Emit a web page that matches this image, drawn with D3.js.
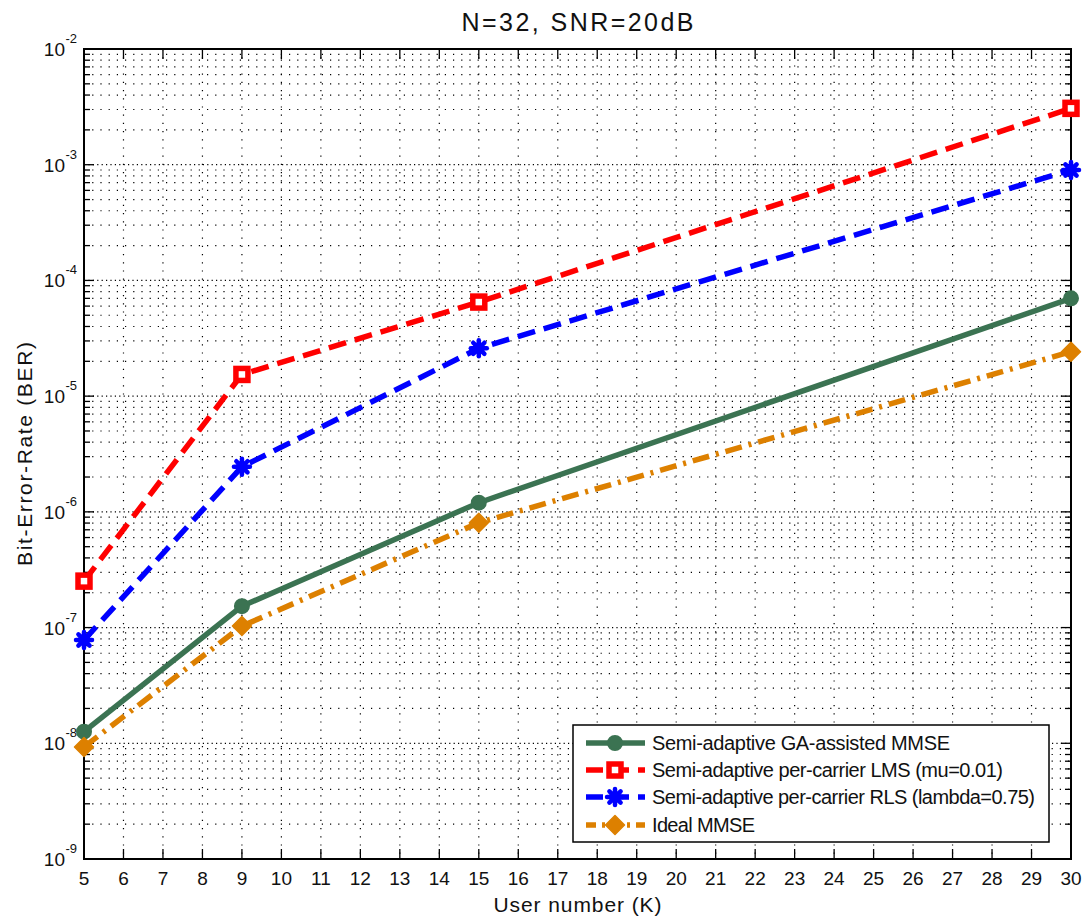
<!DOCTYPE html>
<html>
<head>
<meta charset="utf-8">
<script src="https://cdn.jsdelivr.net/npm/d3@7"></script>
<style>
  html, body { margin: 0; padding: 0; background: #fff; }
  svg { display: block; font-family: "Liberation Sans", Arial, sans-serif; }
</style>
</head>
<body>
<svg id="chart" width="1086" height="919"></svg>
<script>
// User numbers (K) at which BER was evaluated
const users = [5, 9, 15, 30];

// Bit-error-rate per scheme
const berGA   = [1.26e-8, 1.53e-7, 1.2e-6, 7.0e-5];
const berLMS  = [2.52e-7, 1.54e-5, 6.5e-5, 3.07e-3];
const berRLS  = [7.8e-8, 2.45e-6, 2.59e-5, 9.0e-4];
const berIdeal = [9.3e-9, 1.03e-7, 8.05e-7, 2.42e-5];

const seriesNames = [
  "Semi-adaptive GA-assisted MMSE",
  "Semi-adaptive per-carrier LMS (mu=0.01)",
  "Semi-adaptive per-carrier RLS (lambda=0.75)",
  "Ideal MMSE"
];

const xTicks = d3.range(5, 31);
const yExponents = [-9, -8, -7, -6, -5, -4, -3, -2];

const titleText = "N=32, SNR=20dB";
const xLabel = "User number (K)";
const yLabel = "Bit-Error-Rate (BER)";

(function () {
const svg = d3.select("#chart");
const pL = 84, pR = 1071, pT = 49, pB = 859;
const midX = (pL + pR) / 2, midY = (pT + pB) / 2;

const x = d3.scaleLinear().domain([5, 30]).range([pL, pR]);
const y = d3.scaleLog().domain([1e-9, 1e-2]).range([pB, pT]);

// Minor decade values 2..9 x 10^k
const minorVals = [];
for (let e = -9; e < -2; e++) for (let m = 2; m <= 9; m++) minorVals.push(m * Math.pow(10, e));
const majorVals = yExponents.map(e => Math.pow(10, e));

const grid = svg.append("g").attr("stroke", "#000").attr("stroke-width", 1.2);

// Vertical grid
grid.selectAll("line.vx").data(xTicks.slice(1, -1)).join("line")
  .attr("x1", d => x(d)).attr("x2", d => x(d))
  .attr("y1", pT).attr("y2", pB)
  .attr("stroke-dasharray", "1.2,7");

// Horizontal minor grid
grid.selectAll("line.hm").data(minorVals).join("line")
  .attr("x1", pL).attr("x2", pR)
  .attr("y1", d => y(d)).attr("y2", d => y(d))
  .attr("stroke-dasharray", "1.2,7");

// Horizontal major grid (denser dots)
grid.selectAll("line.hM").data(majorVals.slice(1, -1)).join("line")
  .attr("x1", pL).attr("x2", pR)
  .attr("y1", d => y(d)).attr("y2", d => y(d))
  .attr("stroke-dasharray", "1.2,3.2");

// Axis frame and ticks
const axesG = svg.append("g").attr("stroke", "#000").attr("stroke-width", 1.3);
axesG.append("rect").attr("x", pL).attr("y", pT)
  .attr("width", pR - pL).attr("height", pB - pT)
  .attr("fill", "none").attr("stroke-width", 2);

const majLen = 10, minLen = 6;
xTicks.forEach(t => {
  axesG.append("line").attr("x1", x(t)).attr("x2", x(t)).attr("y1", pB).attr("y2", pB - majLen);
  axesG.append("line").attr("x1", x(t)).attr("x2", x(t)).attr("y1", pT).attr("y2", pT + majLen);
});
majorVals.forEach(v => {
  axesG.append("line").attr("x1", pL).attr("x2", pL + majLen).attr("y1", y(v)).attr("y2", y(v));
  axesG.append("line").attr("x1", pR).attr("x2", pR - majLen).attr("y1", y(v)).attr("y2", y(v));
});
minorVals.forEach(v => {
  axesG.append("line").attr("x1", pL).attr("x2", pL + minLen).attr("y1", y(v)).attr("y2", y(v));
  axesG.append("line").attr("x1", pR).attr("x2", pR - minLen).attr("y1", y(v)).attr("y2", y(v));
});

// X tick labels
svg.append("g").selectAll("text").data(xTicks).join("text")
  .attr("x", d => x(d)).attr("y", 885)
  .attr("text-anchor", "middle").attr("font-size", 19).attr("fill", "#111")
  .text(d => d);

// Y tick labels: 10^e
const yl = svg.append("g").attr("fill", "#111");
yExponents.forEach(e => {
  yl.append("text").attr("x", 65).attr("y", y(Math.pow(10, e)) + 7)
    .attr("text-anchor", "end").attr("font-size", 19).text("10");
  yl.append("text").attr("x", 65.5).attr("y", y(Math.pow(10, e)) - 6)
    .attr("font-size", 13).text(String(e));
});

// Title and axis labels
svg.append("text").attr("x", midX).attr("y", 31).attr("text-anchor", "middle")
  .attr("font-size", 25).attr("fill", "#111")
  .attr("textLength", 232).attr("lengthAdjust", "spacing").text(titleText);
svg.append("text").attr("x", midX).attr("y", 912).attr("text-anchor", "middle")
  .attr("font-size", 21).attr("fill", "#111")
  .attr("textLength", 168).attr("lengthAdjust", "spacing").text(xLabel);
svg.append("text").attr("transform", `translate(32,${midY}) rotate(-90)`)
  .attr("text-anchor", "middle").attr("font-size", 21).attr("fill", "#111")
  .attr("textLength", 224).attr("lengthAdjust", "spacing").text(yLabel);

// Series styling
const series = [
  { name: seriesNames[0], vals: berGA,    color: "#3b7352", dash: null,       marker: "circle",  w: 298 },
  { name: seriesNames[1], vals: berLMS,   color: "#ff0000", dash: "18,9",     marker: "square",  w: 351 },
  { name: seriesNames[2], vals: berRLS,   color: "#0000ff", dash: "18,9",     marker: "star",    w: 383 },
  { name: seriesNames[3], vals: berIdeal, color: "#dd8000", dash: "17,7,3,7", marker: "diamond", w: 103 }
];

const line = d3.line().x(d => x(d[0])).y(d => y(d[1]));

function drawMarker(g, type, cx, cy, color) {
  if (type === "circle") {
    g.append("circle").attr("cx", cx).attr("cy", cy).attr("r", 7)
      .attr("fill", color).attr("stroke", color).attr("stroke-width", 2);
  } else if (type === "square") {
    g.append("rect").attr("x", cx - 6).attr("y", cy - 6).attr("width", 12).attr("height", 12)
      .attr("fill", "#fff").attr("stroke", color).attr("stroke-width", 5.5);
  } else if (type === "star") {
    const r = 8;
    [[-r, 0, r, 0], [0, -r, 0, r], [-r * 0.7, -r * 0.7, r * 0.7, r * 0.7], [-r * 0.7, r * 0.7, r * 0.7, -r * 0.7]]
      .forEach(s => g.append("line").attr("x1", cx + s[0]).attr("y1", cy + s[1])
        .attr("x2", cx + s[2]).attr("y2", cy + s[3])
        .attr("stroke", color).attr("stroke-width", 4.5).attr("stroke-linecap", "round"));
    g.append("circle").attr("cx", cx).attr("cy", cy).attr("r", 6).attr("fill", color);
  } else if (type === "diamond") {
    const r = 9.5;
    g.append("path").attr("d", `M${cx},${cy - r}L${cx + r},${cy}L${cx},${cy + r}L${cx - r},${cy}Z`)
      .attr("fill", color).attr("stroke", color).attr("stroke-width", 1.5).attr("stroke-linejoin", "round");
  }
}

const plotG = svg.append("g");
series.forEach(s => {
  const pts = users.map((u, i) => [u, s.vals[i]]);
  plotG.append("path").attr("d", line(pts)).attr("fill", "none")
    .attr("stroke", s.color).attr("stroke-width", 5.5)
    .attr("stroke-dasharray", s.dash);
  pts.forEach(p => drawMarker(plotG, s.marker, x(p[0]), y(p[1]), s.color));
});

// Legend
const lg = svg.append("g");
lg.append("rect").attr("x", 573).attr("y", 725).attr("width", 476).attr("height", 117)
  .attr("fill", "#fff").attr("stroke", "#000").attr("stroke-width", 1.5);
const rowsY = [743, 770, 797, 825];
series.forEach((s, i) => {
  const yy = rowsY[i];
  lg.append("line").attr("x1", 586).attr("x2", 645).attr("y1", yy).attr("y2", yy)
    .attr("stroke", s.color).attr("stroke-width", 5.5)
    .attr("stroke-dasharray", s.dash ? (i === 3 ? "10,6,3,6" : "17,9") : null);
  drawMarker(lg, s.marker, 615, yy, s.color);
  lg.append("text").attr("x", 652).attr("y", yy + 7).attr("font-size", 20)
    .attr("fill", "#111").attr("textLength", s.w).attr("lengthAdjust", "spacing").text(s.name);
});
})();
</script>
</body>
</html>
